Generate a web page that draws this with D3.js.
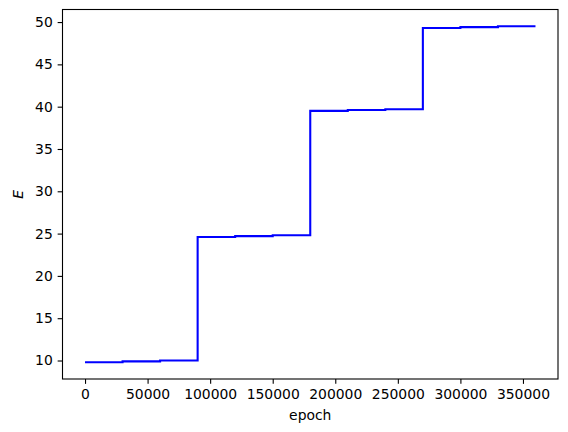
<!DOCTYPE html>
<html>
<head>
<meta charset="utf-8">
<script src="https://cdn.jsdelivr.net/npm/d3@7"></script>
<style>
  body { margin: 0; background: #fff; }
  text { font-family: "DejaVu Sans", sans-serif; }
</style>
</head>
<body>
<div class="chart"></div>
<script>
// step edges (epoch) and the level held on each interval
var epochs = [0, 30000, 60000, 90000, 120000, 150000, 180000, 210000, 240000, 270000, 300000, 330000, 360000];
var levels = [9.8, 9.9, 10.0, 24.6, 24.7, 24.8, 39.5, 39.6, 39.7, 49.3, 49.4, 49.5];
var xTicks = [0, 50000, 100000, 150000, 200000, 250000, 300000, 350000];
var yTicks = [10, 15, 20, 25, 30, 35, 40, 45, 50];

var margin = { top: 9.5, right: 10, bottom: 53, left: 62.5 };
var width = 568 - margin.left - margin.right;
var height = 432 - margin.top - margin.bottom;

var svg = d3.select('.chart')
    .append('svg')
    .attr('width', 568)
    .attr('height', 432)
    .append('g')
    .attr('transform', `translate(${margin.left}, ${margin.top})`);

// matplotlib style 5% padding
var xPad = (d3.max(epochs) - d3.min(epochs)) * 0.05;
var yPad = (d3.max(levels) - d3.min(levels)) * 0.05;

var xScale = d3.scaleLinear()
    .domain([d3.min(epochs) - xPad, d3.max(epochs) + xPad])
    .range([0, width]);

var yScale = d3.scaleLinear()
    .domain([d3.min(levels) - yPad, d3.max(levels) + yPad])
    .range([height, 0]);

// points for a post-step line, last level repeated at the final edge
var pts = epochs.map(function (e, i) {
    return [e, levels[Math.min(i, levels.length - 1)]];
});

var line = d3.line()
    .x(d => xScale(d[0]))
    .y(d => yScale(d[1]))
    .curve(d3.curveStepAfter);

svg.append('path')
    .datum(pts)
    .attr('d', line)
    .style('fill', 'none')
    .style('stroke', '#0000ff')
    .style('stroke-width', 2.08);

var xAxis = d3.axisBottom(xScale)
    .tickValues(xTicks)
    .tickFormat(d3.format('d'))
    .tickSize(4.86)
    .tickPadding(4.86);

var yAxis = d3.axisLeft(yScale)
    .tickValues(yTicks)
    .tickFormat(d3.format('d'))
    .tickSize(4.86)
    .tickPadding(4.86);

var gx = svg.append('g')
    .attr('transform', 'translate(0,' + height + ')')
    .call(xAxis);
var gy = svg.append('g').call(yAxis);

[gx, gy].forEach(function (g) {
    g.select('.domain').remove();
    g.selectAll('.tick line').style('stroke', '#000').style('stroke-width', 1.1);
    g.selectAll('.tick text')
        .style('font-family', '"DejaVu Sans", sans-serif')
        .style('font-size', '13.9px')
        .style('fill', '#000');
});

// frame
svg.append('rect')
    .attr('width', width)
    .attr('height', height)
    .style('fill', 'none')
    .style('stroke', '#000')
    .style('stroke-width', 1.1);

svg.append('text')
    .attr('x', width / 2)
    .attr('y', height + 41)
    .attr('text-anchor', 'middle')
    .style('font-size', '13.9px')
    .text('epoch');

svg.append('text')
    .attr('transform', `translate(${-39.5}, ${height / 2}) rotate(-90)`)
    .attr('text-anchor', 'middle')
    .style('font-size', '13.9px')
    .style('font-style', 'italic')
    .text('E');
</script>
</body>
</html>
